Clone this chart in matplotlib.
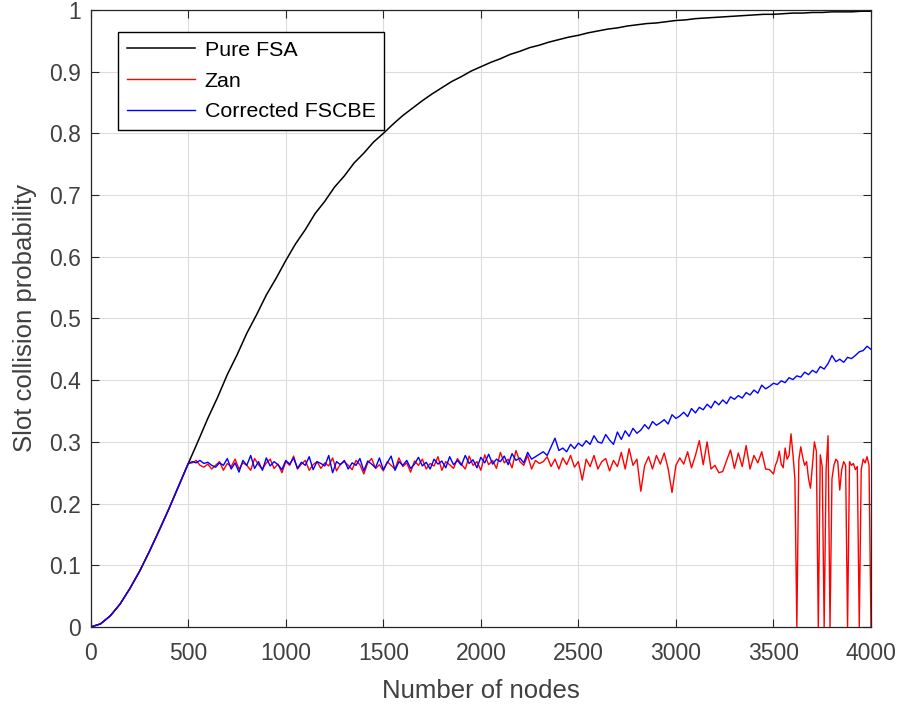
import matplotlib.pyplot as plt

plt.rcParams['font.family'] = ['Liberation Sans', 'DejaVu Sans']

# ============== DATA ==============

# Pure FSA, every 50 nodes from 0 to 4000
fsa_nodes = list(range(0, 4001, 50))
fsa_prob = [0.000, 0.005, 0.018, 0.037, 0.062, 0.090, 0.122, 0.156, 0.191, 0.228,
            0.265, 0.301, 0.338, 0.372, 0.409, 0.441, 0.476, 0.506, 0.538, 0.565,
            0.594, 0.621, 0.644, 0.670, 0.690, 0.713, 0.731, 0.752, 0.768, 0.786,
            0.800, 0.815, 0.829, 0.841, 0.853, 0.864, 0.874, 0.884, 0.892, 0.901,
            0.908, 0.915, 0.921, 0.928, 0.933, 0.939, 0.943, 0.948, 0.952, 0.956,
            0.959, 0.963, 0.966, 0.969, 0.971, 0.974, 0.976, 0.978, 0.979, 0.981,
            0.983, 0.984, 0.986, 0.987, 0.988, 0.989, 0.990, 0.991, 0.992, 0.993,
            0.993, 0.994, 0.995, 0.995, 0.996, 0.996, 0.997, 0.997, 0.997, 0.998,
            0.998]

# shared start of Zan / FSCBE (same as pure FSA up to 500 nodes)
start_nodes = fsa_nodes[:11]
start_prob = fsa_prob[:11]

# Corrected FSCBE, every 20 nodes from 520 to 4000
fscbe_nodes = list(range(520, 4001, 20))
fscbe_prob = [0.268, 0.266, 0.270, 0.265, 0.267, 0.262, 0.259, 0.266, 0.262,
              0.273, 0.256, 0.266, 0.251, 0.270, 0.262, 0.278, 0.257, 0.268, 0.254,
              0.274, 0.261, 0.268, 0.263, 0.255, 0.270, 0.264, 0.274, 0.257, 0.267,
              0.262, 0.276, 0.255, 0.268, 0.265, 0.261, 0.278, 0.250, 0.268, 0.263,
              0.270, 0.256, 0.266, 0.262, 0.273, 0.253, 0.269, 0.264, 0.258, 0.274,
              0.255, 0.266, 0.277, 0.254, 0.268, 0.262, 0.270, 0.257, 0.264, 0.275,
              0.261, 0.267, 0.256, 0.272, 0.264, 0.269, 0.258, 0.276, 0.263, 0.270,
              0.262, 0.278, 0.265, 0.271, 0.258, 0.275, 0.266, 0.280, 0.264, 0.272,
              0.268, 0.277, 0.263, 0.281, 0.270, 0.274, 0.266, 0.283, 0.272, 0.276,
              0.280,
              0.284, 0.278, 0.292, 0.306, 0.286, 0.290, 0.284, 0.296, 0.289, 0.298,
              0.293, 0.302, 0.296, 0.310, 0.300, 0.298, 0.312, 0.303, 0.296, 0.316,
              0.304, 0.318, 0.309, 0.322, 0.314, 0.319, 0.328, 0.321, 0.333, 0.327,
              0.331, 0.336, 0.329, 0.344, 0.338, 0.342, 0.348, 0.341, 0.354, 0.347,
              0.356, 0.352, 0.361, 0.355, 0.366, 0.360, 0.368, 0.362, 0.373, 0.369,
              0.375, 0.371, 0.380, 0.376, 0.384, 0.379, 0.392, 0.386, 0.390, 0.395,
              0.393, 0.399, 0.396, 0.404, 0.401, 0.407, 0.405, 0.413, 0.409, 0.416,
              0.412, 0.422, 0.418, 0.427, 0.440, 0.430, 0.434, 0.429, 0.437, 0.435,
              0.440, 0.446, 0.448, 0.455, 0.450]

# Zan, every 20 nodes from 520 to 3500, then every 10 nodes up to 4000
zan_nodes = list(range(520, 3501, 20)) + list(range(3510, 4001, 10))
zan_prob = [0.266, 0.270, 0.262, 0.259, 0.264, 0.256, 0.262, 0.268, 0.254,
            0.265, 0.260, 0.272, 0.256, 0.266, 0.262, 0.254, 0.273, 0.263, 0.256,
            0.266, 0.272, 0.257, 0.264, 0.250, 0.268, 0.262, 0.277, 0.256, 0.264,
            0.270, 0.254, 0.263, 0.268, 0.257, 0.266, 0.261, 0.274, 0.253, 0.264,
            0.268, 0.262, 0.255, 0.270, 0.263, 0.248, 0.266, 0.273, 0.257, 0.263,
            0.253, 0.268, 0.262, 0.256, 0.274, 0.260, 0.266, 0.251, 0.269, 0.262,
            0.272, 0.256, 0.265, 0.261, 0.276, 0.254, 0.268, 0.263, 0.257, 0.273,
            0.264, 0.256, 0.277, 0.262, 0.268, 0.254, 0.279, 0.263, 0.270, 0.257,
            0.283, 0.266, 0.272, 0.258, 0.286, 0.268, 0.262, 0.278, 0.256, 0.270,
            0.265,
            0.268, 0.276, 0.260, 0.272, 0.256, 0.274, 0.263, 0.278, 0.259, 0.268,
            0.238, 0.272, 0.260, 0.278, 0.256, 0.268, 0.273, 0.253, 0.270, 0.260,
            0.283, 0.256, 0.289, 0.262, 0.272, 0.220, 0.262, 0.276, 0.256, 0.278,
            0.264, 0.282, 0.257, 0.218, 0.262, 0.274, 0.264, 0.284, 0.258, 0.278,
            0.302, 0.263, 0.300, 0.256, 0.262, 0.250, 0.252, 0.270, 0.287, 0.257,
            0.282, 0.260, 0.294, 0.256, 0.278, 0.266, 0.284, 0.256, 0.255, 0.248,
            0.262, 0.270, 0.285, 0.264, 0.258, 0.290, 0.272, 0.278, 0.313, 0.280,
            0.240, 0.000, 0.270, 0.292, 0.275, 0.262, 0.268, 0.240, 0.225, 0.262,
            0.300, 0.285, 0.000, 0.279, 0.260, 0.000, 0.255, 0.310, 0.000, 0.240,
            0.262, 0.272, 0.268, 0.222, 0.255, 0.268, 0.262, 0.000, 0.268, 0.262,
            0.265, 0.255, 0.260, 0.000, 0.255, 0.272, 0.266, 0.276, 0.262, 0.000]

x_ticks = list(range(0, 4001, 500))
y_ticks = [0, 0.1, 0.2, 0.3, 0.4, 0.5, 0.6, 0.7, 0.8, 0.9, 1]
y_tick_labels = ['0', '0.1', '0.2', '0.3', '0.4', '0.5', '0.6', '0.7', '0.8', '0.9', '1']

# ============== PLOT ==============

fig = plt.figure(figsize=(9.02, 7.04), dpi=100)
ax = fig.add_axes([0.1006, 0.1094, 0.8650, 0.8764])

ax.plot(fsa_nodes, fsa_prob, color='black', lw=1.1, label='Pure FSA')
ax.plot(start_nodes + zan_nodes, start_prob + zan_prob, color='#ff0000', lw=1.0, label='Zan')
ax.plot(start_nodes + fscbe_nodes, start_prob + fscbe_prob, color='#0000ff', lw=1.0,
        label='Corrected FSCBE')

ax.set_xlim(0, 4000)
ax.set_ylim(0, 1)
ax.set_xticks(x_ticks)
ax.set_yticks(y_ticks)
ax.set_yticklabels(y_tick_labels)

dark = '#262626'
label_grey = '#404040'
ax.tick_params(direction='in', top=True, right=True, length=6, width=0.8,
               labelsize=16.5, colors=dark, labelcolor=label_grey)
ax.tick_params(axis='x', pad=11)
ax.tick_params(axis='y', pad=7)
for s in ax.spines.values():
    s.set_color(dark)
    s.set_linewidth(0.9)
ax.grid(True, color='#dcdcdc', lw=0.8)
ax.set_axisbelow(True)

ax.set_xlabel('Number of nodes', fontsize=18.5, color=label_grey, labelpad=10)
ax.set_ylabel('Slot collision probability', fontsize=18.5, color=label_grey, labelpad=9)

leg = ax.legend(loc='upper left', bbox_to_anchor=(0.035, 0.964), fontsize=15.4,
                fancybox=False, framealpha=1, edgecolor='black', handlelength=3.2,
                handletextpad=0.45, borderpad=0.4, labelspacing=0.55, borderaxespad=0)
leg.get_frame().set_linewidth(1.0)
for t in leg.get_texts():
    t.set_color('black')

fig.savefig('out.png', dpi=100)
